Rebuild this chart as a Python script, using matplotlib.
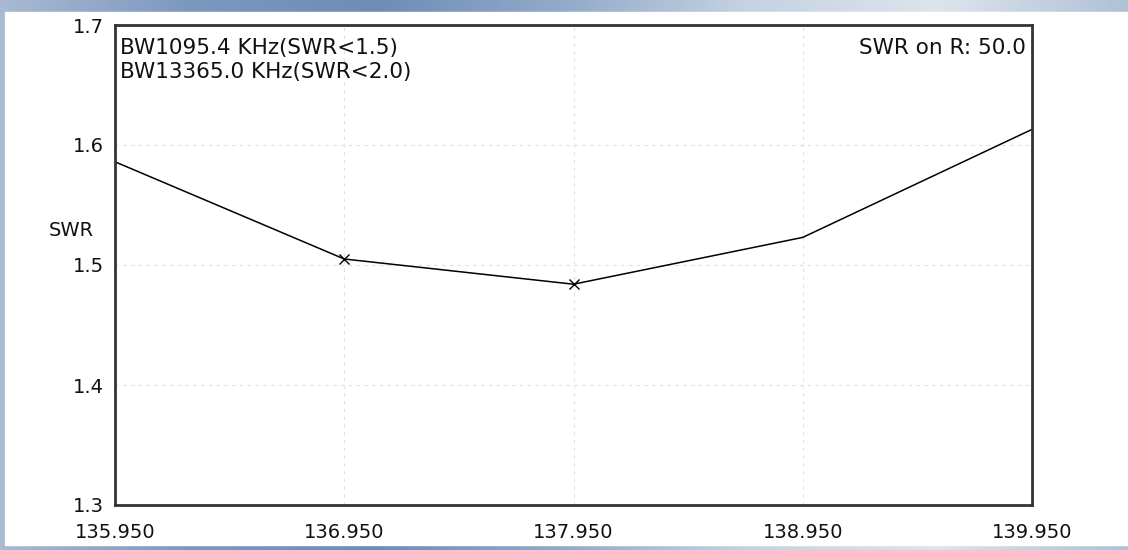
import numpy as np
import matplotlib
matplotlib.use('Agg')
import matplotlib.pyplot as plt
from matplotlib.colors import LinearSegmentedColormap

# data
freq = [135.95, 136.95, 137.95, 138.95, 139.95]
swr = [1.586, 1.505, 1.484, 1.523, 1.613]
marked = [1, 2]  # points drawn with an x marker
xticks = [135.95, 136.95, 137.95, 138.95, 139.95]
yticks = [1.3, 1.4, 1.5, 1.6, 1.7]

W, H = 1128, 550
fig = plt.figure(figsize=(W / 100, H / 100), dpi=100)
fig.patch.set_facecolor('#8ea5c6')

# window-ish background: blue gradient strip behind a white panel
bg = fig.add_axes([0, 0, 1, 1])
cmap = LinearSegmentedColormap.from_list(
    'win', ['#a9b9d2', '#7d98bf', '#6f8cb6', '#93abca', '#c6d3e2', '#dde4ec', '#b0c1d6'])
bg.imshow(np.linspace(0, 1, 256)[None, :], aspect='auto', cmap=cmap,
          extent=[0, 1, 0, 1])
bg.add_patch(plt.Rectangle((5 / W, 5 / H), 1 - 5 / W, 1 - 17 / H,
                           color='white', transform=bg.transAxes))
bg.set_axis_off()

ax = fig.add_axes([115 / W, 45 / H, (1032 - 115) / W, (505 - 25) / H])
ax.plot(freq, swr, color='black', lw=1.1)
ax.plot([freq[i] for i in marked], [swr[i] for i in marked], 'x',
        color='black', ms=7, mew=1)

ax.set_xlim(135.95, 139.95)
ax.set_ylim(1.3, 1.7)
ax.set_xticks(xticks)
ax.set_xticklabels([f"{t:.3f}" for t in xticks])
ax.set_yticks(yticks)
ax.set_yticklabels([f"{t:.1f}" for t in yticks])
ax.tick_params(length=0, labelsize=14, colors='#111111')
ax.tick_params(axis='x', pad=13)
ax.tick_params(axis='y', pad=8)
ax.grid(True, color='#e0e0e0', ls=(0, (3, 4)), lw=0.8)
for s in ax.spines.values():
    s.set_color('#333333')
    s.set_linewidth(2)

ax.text(0.005, 0.972, "BW1095.4 KHz(SWR<1.5)\nBW13365.0 KHz(SWR<2.0)",
        transform=ax.transAxes, ha='left', va='top', fontsize=15.5,
        linespacing=1.2, color='#111111')
ax.text(0.993, 0.972, "SWR on R: 50.0", transform=ax.transAxes,
        ha='right', va='top', fontsize=15.5, color='#111111')
fig.text(71 / W, 1 - 230 / H, "SWR", ha='center', va='center',
         fontsize=14, color='#111111')

fig.savefig('out.png', dpi=100, facecolor=fig.get_facecolor())
